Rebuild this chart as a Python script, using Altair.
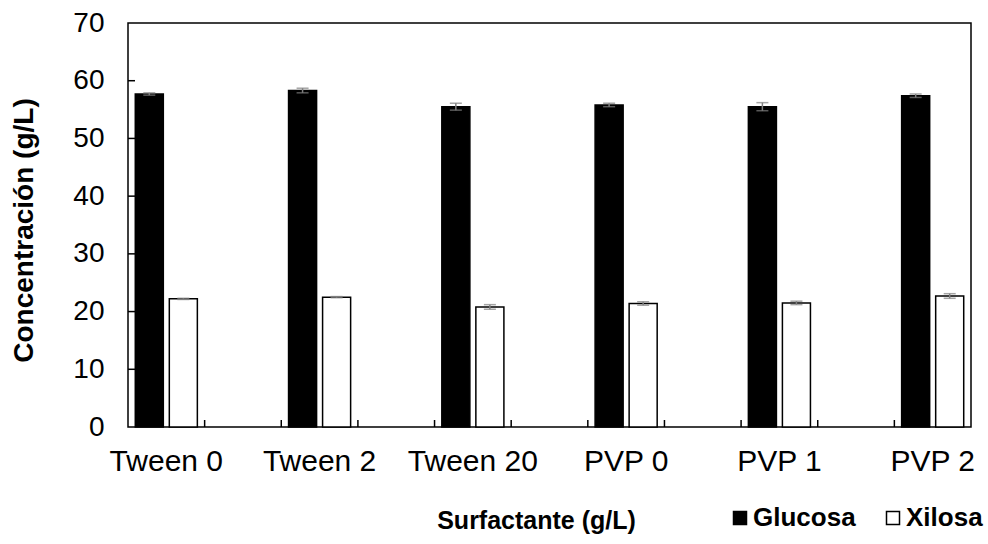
import altair as alt
import pandas as pd

categorias = ["Tween 0", "Tween 2", "Tween 20", "PVP 0", "PVP 1", "PVP 2"]
eje_x = ["Tween 0", " ", "Tween 2", "  ", "Tween 20", "   ", "PVP 0", "    ",
         "PVP 1", "     ", "PVP 2"]
series = ["Glucosa", "Xilosa"]
glucosa = [57.7, 58.3, 55.5, 55.8, 55.5, 57.4]
glucosa_err = [0.2, 0.4, 0.6, 0.3, 0.7, 0.3]
xilosa = [22.2, 22.5, 20.8, 21.4, 21.5, 22.7]
xilosa_err = [0.1, 0.1, 0.4, 0.3, 0.3, 0.4]
y_valores = [0, 10, 20, 30, 40, 50, 60, 70]

rows = []
for i, c in enumerate(categorias):
    rows.append(dict(cat=c, serie="Glucosa", valor=glucosa[i],
                     lo=glucosa[i] - glucosa_err[i], hi=glucosa[i] + glucosa_err[i]))
    rows.append(dict(cat=c, serie="Xilosa", valor=xilosa[i],
                     lo=xilosa[i] - xilosa_err[i], hi=xilosa[i] + xilosa_err[i]))
df = pd.DataFrame(rows)
df_xt = pd.DataFrame({"cat": eje_x[1:]})
df_yt = pd.DataFrame({"v": y_valores[1:-1]})

W, H = 843, 404
FONT = "Liberation Sans"
ERR = "#7f7f7f"

xscale = alt.Scale(domain=eje_x, paddingInner=0, paddingOuter=0)
xoff = alt.Scale(domain=series, paddingInner=0.176, paddingOuter=0.214)
yscale = alt.Scale(domain=[0, 70], nice=False, zero=True)

x_axis = alt.Axis(ticks=False, tickSize=0, domain=False, grid=False, labelAngle=0,
                  labelFont=FONT, labelFontSize=30, labelColor="black", labelPadding=19,
                  title="Surfactante (g/L)", titleFont=FONT, titleFontSize=25,
                  titleFontWeight="bold", titleColor="black", titleX=408, titleY=101,
                  titleAlign="center", titleBaseline="alphabetic")
y_axis = alt.Axis(values=y_valores, ticks=False, tickSize=0, domain=False, grid=False,
                  labelFont=FONT, labelFontSize=28, labelColor="black", labelPadding=24,
                  title="Concentración (g/L)", titleFont=FONT, titleFontSize=28,
                  titleFontWeight="bold", titleColor="black", titleX=-90, titleY=207,
                  titleAngle=-90, titleAlign="center", titleBaseline="bottom")

legend = alt.Legend(orient="none", legendX=595, legendY=482, direction="horizontal",
                    title=None, symbolType="square", symbolSize=169, symbolOffset=4,
                    symbolStrokeColor="black", symbolStrokeWidth=1.5,
                    labelFont=FONT, labelFontSize=26, labelFontWeight="bold",
                    labelColor="black", labelOffset=0, columnPadding=20, padding=0)

base = alt.Chart(df)
X = alt.X("cat:N", scale=xscale, axis=x_axis, title="Surfactante (g/L)")
XO = alt.XOffset("serie:N", scale=xoff)

bars = base.mark_bar(stroke="black", strokeWidth=1.5).encode(
    x=X,
    xOffset=XO,
    y=alt.Y("valor:Q", scale=yscale, axis=y_axis, title="Concentración (g/L)"),
    fill=alt.Fill("serie:N", scale=alt.Scale(domain=series, range=["black", "white"]),
                  legend=legend),
)

err = base.mark_rule(color=ERR, strokeWidth=1.5).encode(
    x=X,
    xOffset=XO,
    y=alt.Y("lo:Q", scale=yscale, axis=y_axis, title="Concentración (g/L)"),
    y2="hi:Q",
)
cap_hi = base.mark_tick(color=ERR, thickness=1.5, size=12, orient="horizontal").encode(
    x=X,
    xOffset=XO,
    y=alt.Y("hi:Q", scale=yscale, axis=y_axis, title="Concentración (g/L)"),
)
cap_lo = base.mark_tick(color=ERR, thickness=1.5, size=12, orient="horizontal").encode(
    x=X,
    xOffset=XO,
    y=alt.Y("lo:Q", scale=yscale, axis=y_axis, title="Concentración (g/L)"),
)

xticks = alt.Chart(df_xt).mark_rule(color="black", strokeWidth=1.5).encode(
    x=alt.X("cat:N", scale=xscale, axis=x_axis, title="Surfactante (g/L)", bandPosition=0),
    y=alt.value(H),
    y2=alt.value(H - 7),
)
yticks = alt.Chart(df_yt).mark_rule(color="black", strokeWidth=1.5).encode(
    y=alt.Y("v:Q", scale=yscale, axis=y_axis, title="Concentración (g/L)"),
    x=alt.value(0),
    x2=alt.value(7),
)

chart = alt.layer(bars, err, cap_hi, cap_lo, xticks, yticks).properties(
    width=W, height=H,
    autosize=alt.AutoSizeParams(type="none"),
    padding={"left": 128, "top": 23, "right": 17, "bottom": 117},
).configure(font=FONT).configure_view(stroke="black", strokeWidth=1.5)

chart.save("out.html", embed_options={"renderer": "svg", "actions": False})
